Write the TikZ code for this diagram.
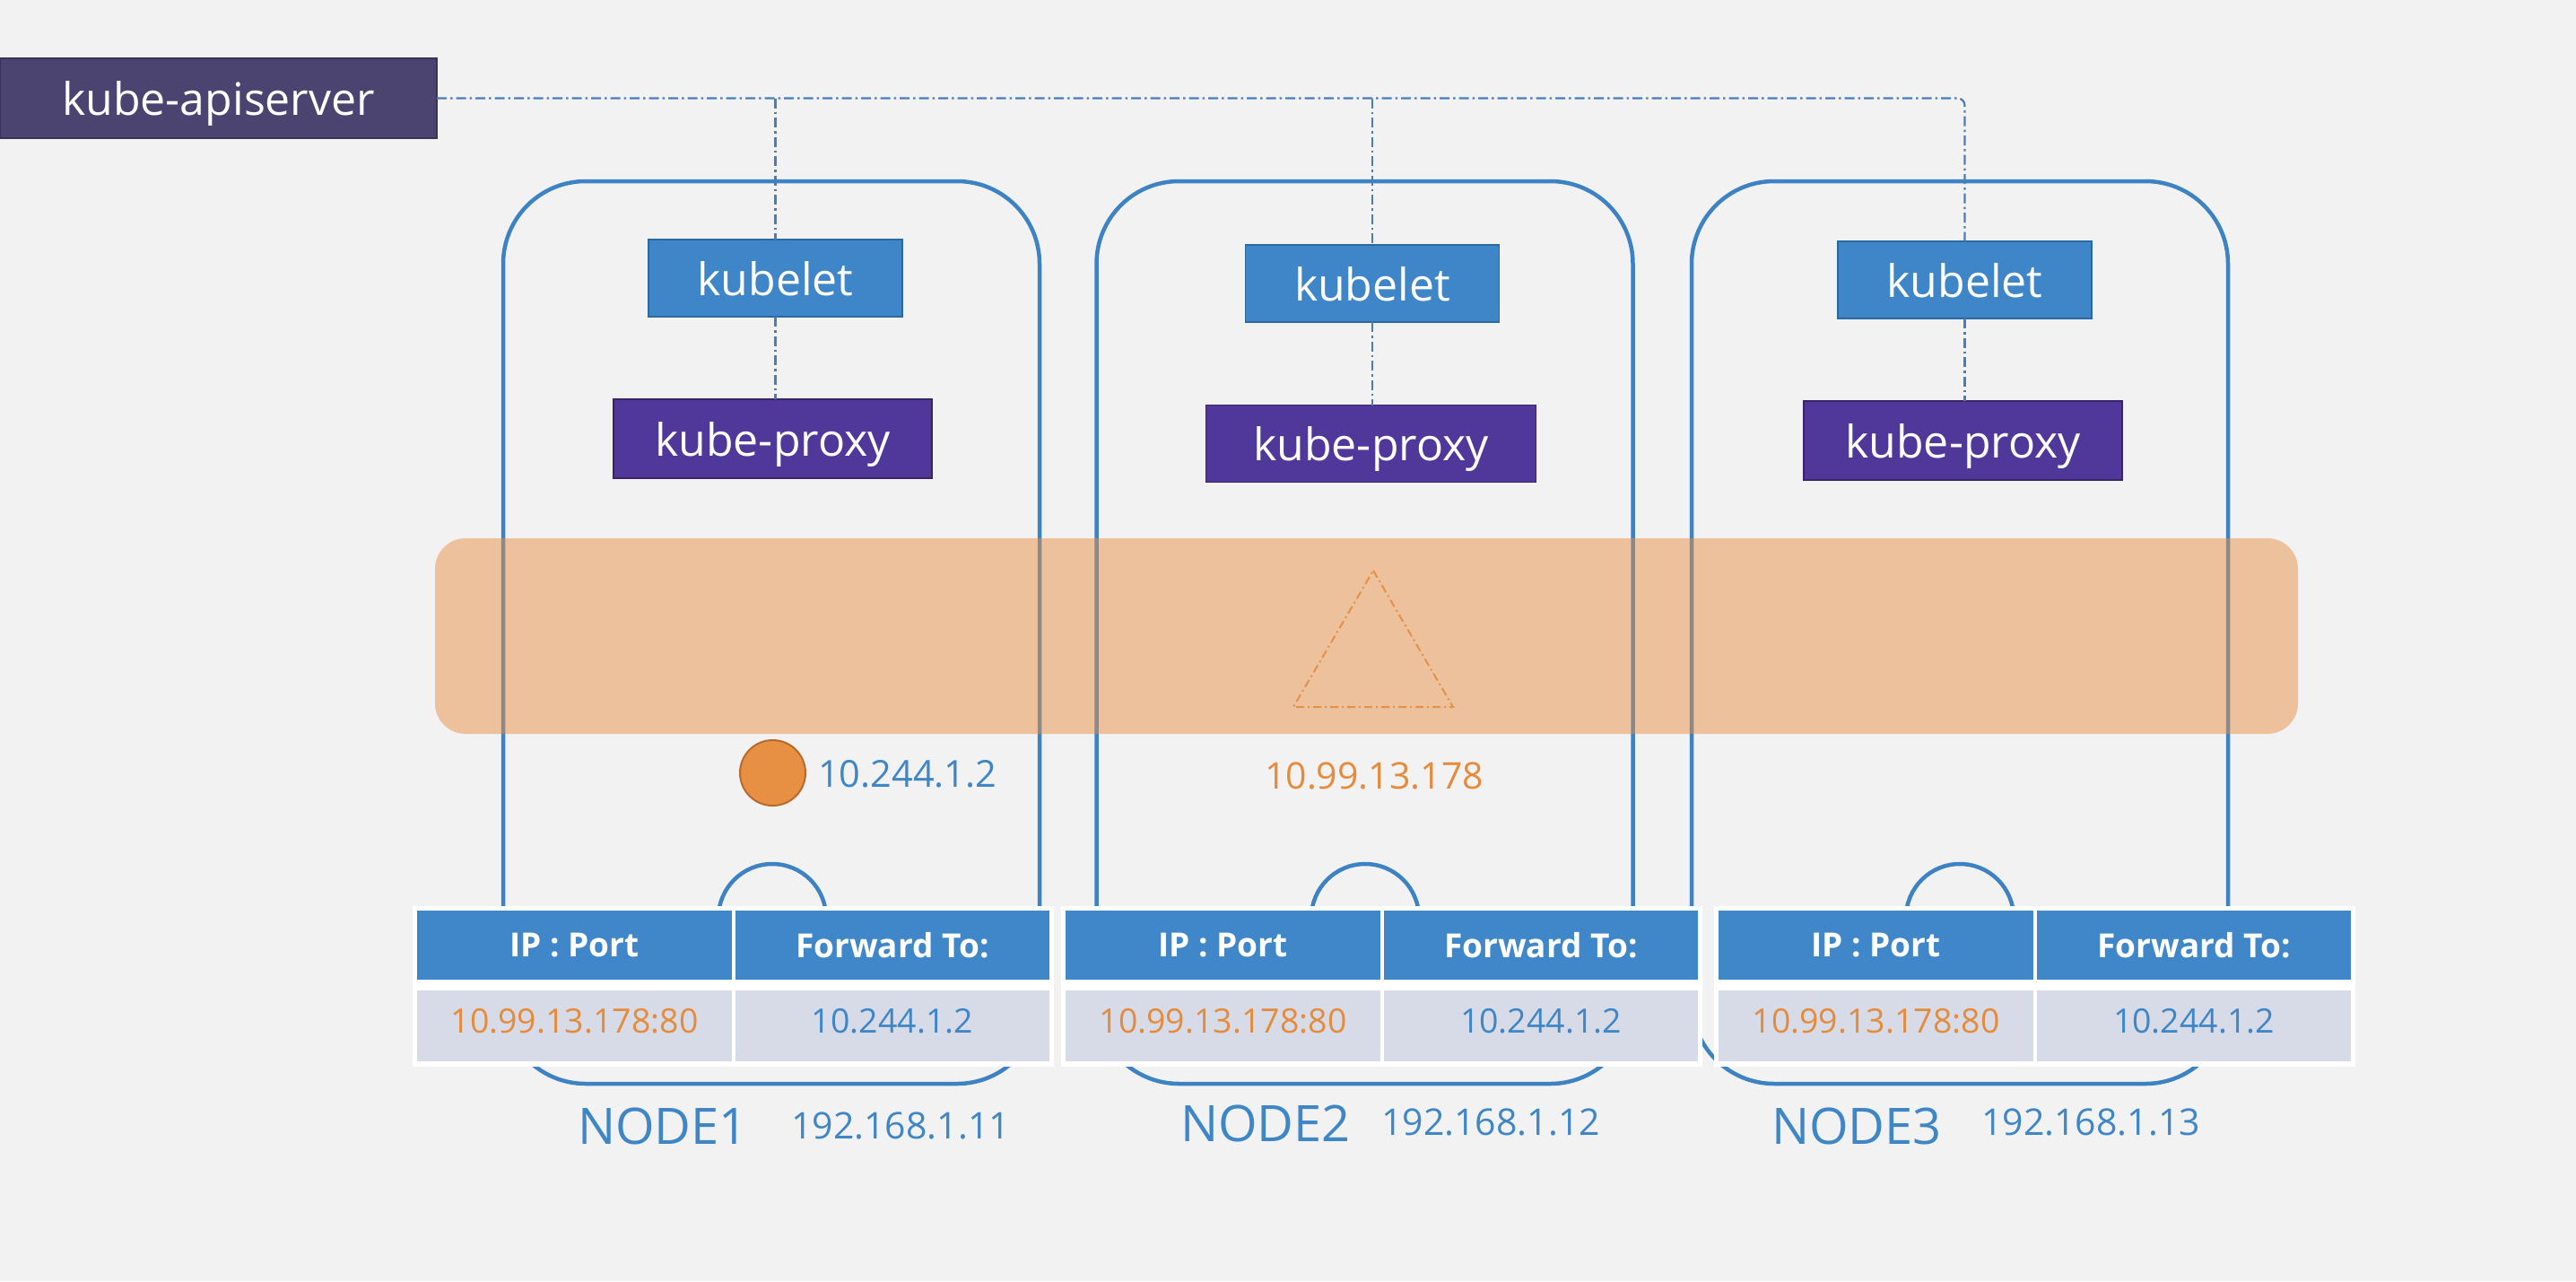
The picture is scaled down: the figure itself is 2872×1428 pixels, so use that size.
\documentclass[tikz,border=0pt]{standalone}
\usepackage{fontspec}
\setmainfont{Open Sans}
\definecolor{pagebg}{HTML}{F2F2F3}
\definecolor{apifill}{HTML}{4B4470}
\definecolor{apiedge}{HTML}{38335A}
\definecolor{kletfill}{HTML}{3F86C8}
\definecolor{kletedge}{HTML}{2D68A0}
\definecolor{kproxfill}{HTML}{50389A}
\definecolor{kproxedge}{HTML}{372568}
\definecolor{nodeline}{HTML}{3D83C4}
\definecolor{linkline}{HTML}{4A7CBC}
\definecolor{svcorange}{HTML}{E78F42}
\definecolor{orangetext}{HTML}{E58C3C}
\definecolor{ipblue}{HTML}{3F86C6}
\definecolor{hdrfill}{HTML}{3F87C9}
\definecolor{rowfill}{HTML}{D7DBE8}
\definecolor{dotedge}{HTML}{B86A2C}
\begin{document}
\begin{tikzpicture}[x=1pt,y=-1pt,
  comp/.style={draw, line width=1.5, inner sep=0, outer sep=0, text=white,
    font=\fontsize{50}{60}\selectfont, text height=38pt, text depth=0pt},
  apibox/.style={comp, fill=apifill, draw=apiedge, minimum width=487, minimum height=89},
  kubeletbox/.style={comp, fill=kletfill, draw=kletedge, minimum width=283, minimum height=86},
  proxybox/.style={comp, fill=kproxfill, draw=kproxedge, minimum width=355, minimum height=88},
  worker/.style={draw=nodeline, line width=4.5, rounded corners=92, minimum width=598,
    minimum height=1006, inner sep=0, outer sep=0},
  portring/.style={circle, draw=nodeline, line width=4.5, minimum size=120, inner sep=0},
  link/.style={draw=linkline, line width=2.2, dash pattern=on 11pt off 4pt on 2.5pt off 4pt},
  band/.style={fill=svcorange, fill opacity=0.49, rounded corners=34, inner sep=0,
    minimum width=2077, minimum height=218},
  hdr/.style={fill=hdrfill, text=white, font=\bfseries\fontsize{37}{44}\selectfont,
    minimum height=77, anchor=north west, inner sep=0, outer sep=0},
  cell/.style={fill=rowfill, font=\fontsize{37.5}{44}\selectfont, minimum height=79,
    anchor=north west, inner sep=0, outer sep=0, text height=27pt, text depth=12pt},
  label/.style={text=ipblue, inner sep=0}
]
% page
\fill[pagebg] (0,0) rectangle (2872,1428);
\useasboundingbox (0,0) rectangle (2872,1428);

% worker node outlines
\node[worker] (w1) at (860,705) {};
\node[worker] (w2) at (1521.5,705) {};
\node[worker] (w3) at (2185,705) {};

% control plane and node agents
\node[apibox] (api) at (243.5,109.5) {kube-apiserver};
\node[kubeletbox] (k1) at (864.5,310) {kubelet};
\node[kubeletbox] (k2) at (1530,316) {kubelet};
\node[kubeletbox] (k3) at (2190.5,312) {kubelet};
\node[proxybox] (p1) at (861.5,489) {kube-proxy};
\node[proxybox, minimum width=368, minimum height=86] (p2) at (1528.5,494.5) {kube-proxy};
\node[proxybox] (p3) at (2188.5,491) {kube-proxy};

% apiserver to kubelets
\coordinate (j1) at (api.east -| k1.north);
\coordinate (j2) at (api.east -| k2.north);
\draw[link, rounded corners=8] (api.east) -- (api.east -| k3.north) -- (k3.north);
\draw[link] (j1) -- (k1.north);
\draw[link] (j2) -- (k2.north);
% kubelet to kube-proxy
\draw[link] (k1.south) -- (k1.south |- p1.north);
\draw[link] (k2.south) -- (k2.south |- p2.north);
\draw[link] (k3.south) -- (k3.south |- p3.north);

% port rings on each node
\node[portring] (r1) at (861,1023) {};
\node[portring] (r2) at (1522,1023) {};
\node[portring] (r3) at (2185,1023) {};

% service spanning all nodes
\node[band] (svc) at (1523.5,709) {};
\draw[svcorange, line width=2, dash pattern=on 9pt off 4pt on 2pt off 4pt]
  (1531,636) -- (1620,788) -- (1442,788) -- cycle;

% pod and addresses
\node[circle, fill=svcorange, draw=dotedge, line width=2, minimum size=73, inner sep=0]
  (pod) at (861.5,861.5) {};
\node[label, anchor=west, font=\fontsize{41.5}{48}\selectfont] (podip) at (912,863) {10.244.1.2};
\node[label, text=orangetext, font=\fontsize{41}{48}\selectfont] (svcip) at (1532,865) {10.99.13.178};

% forwarding tables
\foreach \i/\lx in {1/465,2/1188,3/1916}{
  \fill[white] (\lx-5,1010) rectangle (\lx+710,1189);
  \node[hdr, minimum width=351] (t\i ip) at (\lx,1015) {IP : Port};
  \node[hdr, minimum width=350] (t\i fw) at (\lx+355,1015) {Forward To:};
  \node[cell, minimum width=351, text=orangetext] (t\i svc) at (\lx,1104) {10.99.13.178:80};
  \node[cell, minimum width=350, text=ipblue] (t\i pod) at (\lx+355,1104) {10.244.1.2};
}

% node names and addresses
\node[label, font=\fontsize{56}{66}\selectfont] (n1) at (739,1255) {NODE1};
\node[label, font=\fontsize{41}{48}\selectfont] (n1ip) at (1004,1255) {192.168.1.11};
\node[label, font=\fontsize{56}{66}\selectfont] (n2) at (1411,1252) {NODE2};
\node[label, font=\fontsize{41}{48}\selectfont] (n2ip) at (1662,1251) {192.168.1.12};
\node[label, font=\fontsize{56}{66}\selectfont] (n3) at (2070,1255) {NODE3};
\node[label, font=\fontsize{41}{48}\selectfont] (n3ip) at (2331,1251) {192.168.1.13};
\end{tikzpicture}
\end{document}
